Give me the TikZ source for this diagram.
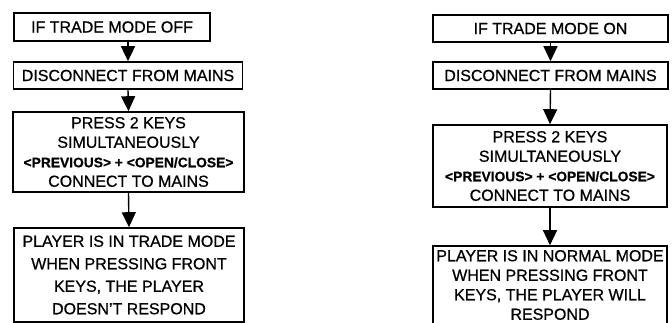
\documentclass[tikz,border=0pt]{standalone}
\usepackage{fontspec}
\setmainfont{Liberation Sans}[FakeBold=0.7]
\usetikzlibrary{arrows.meta}
\newcommand{\fbig}{\fontsize{16}{19.5}\selectfont}
\newcommand{\fbold}{\fontsize{13.8}{19.5}\selectfont\bfseries}
\begin{document}
\begin{tikzpicture}[x=1pt,y=-1pt,
  box/.style={draw, line width=1.6pt, inner sep=0pt, align=center, font=\fbig},
  arr/.style={line width=1.4pt, -{Triangle[length=15pt,width=14pt]}}]
\useasboundingbox (0,0) rectangle (672,323);
% left column
\node[box, minimum width=196pt, minimum height=28pt] (l1) at (112,27) {IF TRADE MODE OFF};
\node[box, minimum width=229pt, minimum height=27pt] (l2) at (128,75.5) {DISCONNECT FROM MAINS};
\node[box, minimum width=231pt, minimum height=80pt] (l3) at (128.5,152) {PRESS 2 KEYS\\SIMULTANEOUSLY\\{\fbold <PREVIOUS> + <OPEN/CLOSE>}\\CONNECT TO MAINS};
\node[box, minimum width=230pt, minimum height=94pt, font=\fontsize{16}{22.5}\selectfont] (l4) at (129,275) {PLAYER IS IN TRADE MODE\\WHEN PRESSING FRONT\\KEYS, THE PLAYER\\DOESN'T RESPOND};
\draw[arr] (l2.north |- l1.south) -- (l2.north);
\draw[arr] (l2.south) -- (l3.north);
\draw[arr] (l3.south) -- (l4.north);
% right column
\node[box, minimum width=235pt, minimum height=27pt] (r1) at (550.5,28.5) {IF TRADE MODE ON};
\node[box, minimum width=235pt, minimum height=27pt] (r2) at (550.5,75.5) {DISCONNECT FROM MAINS};
\node[box, minimum width=234pt, minimum height=82pt] (r3) at (550,166) {PRESS 2 KEYS\\SIMULTANEOUSLY\\{\fbold <PREVIOUS> + <OPEN/CLOSE>}\\CONNECT TO MAINS};
\node[box, minimum width=234pt, minimum height=78pt, font=\fontsize{16}{19.5}\selectfont] (r4) at (550,285) {PLAYER IS IN NORMAL MODE\\WHEN PRESSING FRONT\\KEYS, THE PLAYER WILL\\RESPOND};
\draw[arr] (r2.north |- r1.south) -- (r2.north);
\draw[arr] (r2.south) -- (r3.north);
\draw[arr] (r3.south) -- (r4.north);
\end{tikzpicture}
\end{document}
